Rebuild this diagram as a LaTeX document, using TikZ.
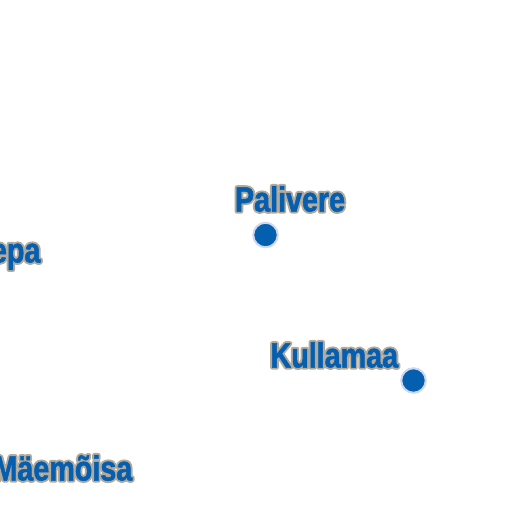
\documentclass[tikz,border=0pt]{standalone}
\usepackage{fontspec}
\setmainfont{Liberation Sans}
\newfontfamily\labelfont[FakeStretch=0.82]{Liberation Sans Bold}
\definecolor{placeblue}{RGB}{5,95,175}
\definecolor{ringblue}{RGB}{205,215,240}
\tikzset{
  x=1pt,y=-1pt,
  placelabel/.style={inner sep=0pt,outer sep=0pt,font=\labelfont\fontsize{35}{35}\selectfont,text=placeblue,anchor=base west},
  placedot/.style={circle,fill=placeblue,draw=ringblue,line width=2pt,minimum size=24.5pt,inner sep=0pt,outer sep=0pt}
}
% stroked copy of the text (the halo), then the filled text on top
\newcommand{\halotext}[1]{\special{pdf:code q 2 Tr 1 j 4.4 w 0.70 0.67 0.61 RG 0.70 0.67 0.61 rg}#1\special{pdf:code Q}}
\newcommand{\bluetext}[1]{\special{pdf:code q 2 Tr 1 j 0.5 w 0.02 0.37 0.69 RG 0.02 0.37 0.69 rg}#1\special{pdf:code Q}}
\newcommand{\halolabelat}[4]{%
  \node[placelabel] (#1halo) at (#3,#4) {\halotext{#2}};
  \node[placelabel] (#1) at (#3,#4) {\bluetext{#2}};}
\begin{document}
\begin{tikzpicture}
\useasboundingbox (0,0) rectangle (512,513);
\clip (0,0) rectangle (512,513);
\fill[white] (0,0) rectangle (512,513);
\halolabelat{palivere}{Palivere}{235}{211.5}
\halolabelat{kullamaa}{Kullamaa}{270.5}{367.5}
\halolabelat{epa}{epa}{-9}{262.5}
\halolabelat{maemoisa}{Mäemõisa}{-6.5}{480.5}
\node[placedot] (palivereDot) at (265.5,235) {};
\node[placedot] (kullamaaDot) at (413.5,380.5) {};
\end{tikzpicture}
\end{document}
